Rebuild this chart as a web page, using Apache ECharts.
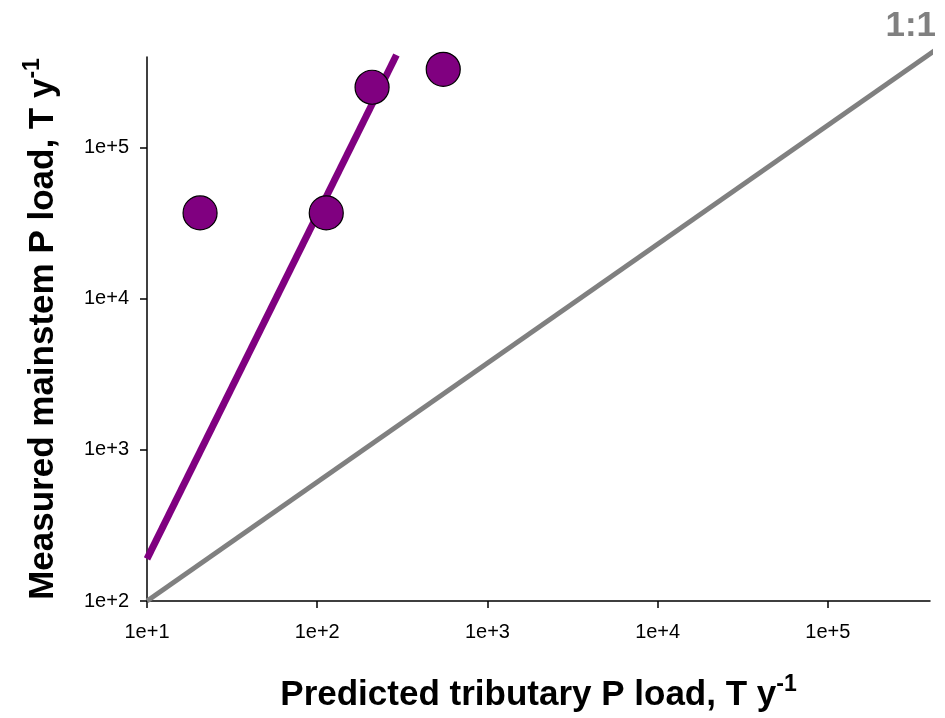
<!DOCTYPE html>
<html>
<head>
<meta charset="utf-8">
<script src="https://cdn.jsdelivr.net/npm/echarts@6/dist/echarts.min.js"></script>
<style>
  html, body { margin: 0; padding: 0; background: #fff; }
  #chart { width: 945px; height: 718px; }
</style>
</head>
<body>
<div id="chart"></div>
<script>
// observed loads, T/y
const predicted = [20.5, 113, 210, 550]
const measured = [37000, 37000, 251000, 330000]
// fitted line end points
const fitX = [10, 292]
const fitY = [190, 410000]
// 1:1 reference line end points
const refX = [10, 500000]
const refY = [100, 500000]
const tickValues = [10, 100, 1000, 10000, 100000]
const yTickValues = [100, 1000, 10000, 100000]

const chart = echarts.init(document.getElementById('chart'))

const font = 'Liberation Sans, Arial, sans-serif'
const fmt = v => '1e+' + Math.round(Math.log10(v))
const zip = (a, b) => a.map((v, i) => [v, b[i]])

const titleStyle = {
  fontFamily: font,
  rich: {
    a: { fontSize: 35, fontWeight: 'bold', color: '#000', fontFamily: font, lineHeight: 40, verticalAlign: 'bottom' },
    sup: { fontSize: 23, fontWeight: 'bold', color: '#000', fontFamily: font, lineHeight: 40, verticalAlign: 'top' }
  }
}

const axisLabel = (vals) => ({
  customValues: vals,
  formatter: fmt,
  color: '#000',
  fontSize: 20,
  fontFamily: font
})

let opts = {
  animation: false,
  backgroundColor: '#fff',
  title: {
    text: '1:1',
    right: 4,
    top: 4,
    textStyle: { color: '#808080', fontSize: 35, fontWeight: 'bold', fontFamily: font }
  },
  grid: { left: 147, top: 57, right: 15, bottom: 115 },
  xAxis: {
    type: 'log',
    logBase: 10,
    min: 10,
    max: Math.pow(10, 5.6),
    splitLine: { show: false },
    axisLine: { lineStyle: { color: '#000', width: 1.5 } },
    axisTick: { length: 7, customValues: tickValues, lineStyle: { color: '#000', width: 1.5 } },
    axisLabel: Object.assign(axisLabel(tickValues), { margin: 21 }),
    name: '{a|Predicted tributary P load, T y}{sup|-1}',
    nameLocation: 'middle',
    nameGap: 72,
    nameTextStyle: titleStyle
  },
  yAxis: {
    type: 'log',
    logBase: 10,
    min: 100,
    max: Math.pow(10, 5.6),
    splitLine: { show: false },
    axisLine: { lineStyle: { color: '#000', width: 1.5 } },
    axisTick: { length: 7, customValues: yTickValues, lineStyle: { color: '#000', width: 1.5 } },
    axisLabel: Object.assign(axisLabel(yTickValues), { margin: 18 }),
    name: '{a|Measured mainstem P load, T y}{sup|-1}',
    nameLocation: 'middle',
    nameGap: 86,
    nameTextStyle: titleStyle
  },
  series: [
    {
      type: 'line',
      data: zip(refX, refY),
      clip: false,
      symbol: 'none',
      lineStyle: { color: '#808080', width: 5 },
      z: 2
    },
    {
      type: 'line',
      data: zip(fitX, fitY),
      clip: false,
      symbol: 'none',
      lineStyle: { color: '#800080', width: 7 },
      z: 3
    },
    {
      type: 'scatter',
      data: zip(predicted, measured),
      symbolSize: 34,
      itemStyle: { color: '#800080', borderColor: '#000', borderWidth: 1.2, opacity: 1 },
      z: 4
    }
  ]
}
chart.setOption(opts)
</script>
</body>
</html>
